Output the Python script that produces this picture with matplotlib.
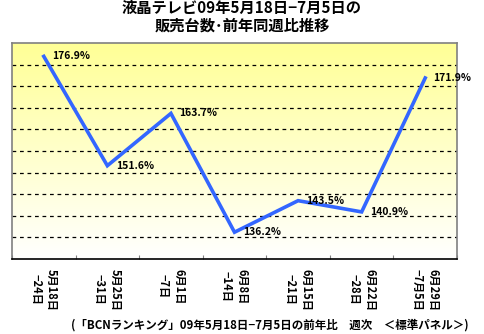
import numpy as np
import matplotlib
matplotlib.use("Agg")
import matplotlib.pyplot as plt
import matplotlib.transforms as mtransforms

plt.rcParams['font.family'] = ['Noto Sans CJK JP', 'DejaVu Sans']

# data
weeks = ['5月18日\n−24日', '5月25日\n−31日', '6月1日\n−7日', '6月8日\n−14日',
         '6月15日\n−21日', '6月22日\n−28日', '6月29日\n−7月5日']
ratio = [176.9, 151.6, 163.7, 136.2, 143.5, 140.9, 171.9]

fig = plt.figure(figsize=(4.84, 3.34), dpi=100)
ax = fig.add_axes([12/484, 1-259/334, 445/484, 216/334])

n = len(ratio)
x = np.arange(n)
ax.set_xlim(-0.5, n - 0.5)
ax.set_ylim(130, 180)

# yellow to white background gradient
grad = np.linspace(0, 1, 256).reshape(-1, 1)
top = np.array([255, 255, 150]) / 255
bot = np.array([255, 255, 255]) / 255
img = top * (1 - grad[..., None]) + bot * grad[..., None]
img = np.repeat(img, 2, axis=1)
ax.imshow(img, extent=[-0.5, n - 0.5, 130, 180], aspect='auto', zorder=0)

for yv in np.arange(135, 180, 5):
    ax.axhline(yv, color='black', lw=0.9, ls=(0, (3, 3)), zorder=1)

ax.plot(x, ratio, color='#3366ff', lw=2.6, zorder=3, solid_joinstyle='miter')
for xi, v in zip(x, ratio):
    ax.annotate(f'{v:.1f}%', (xi, v), xytext=(6, 0), textcoords='offset points',
                ha='left', va='center', fontsize=7.5, fontweight='bold')

ax.set_yticks([])
ax.set_xticks(np.arange(-0.5, n, 1))
ax.set_xticklabels([])
ax.set_xticks(x, minor=True)
ax.set_xticklabels(weeks, minor=True, rotation=-90, fontsize=8, fontweight='bold',
                   va='top', ha='center', linespacing=1.3)
shift = mtransforms.ScaledTranslation(-3/100, 0, fig.dpi_scale_trans)
for lab in ax.get_xticklabels(minor=True):
    lab.set_transform(lab.get_transform() + shift)
ax.tick_params(axis='x', which='major', length=3, direction='in', color='#808080')
ax.tick_params(axis='x', which='minor', length=0, pad=7)
for s in ax.spines.values():
    s.set_color('#808080')
    s.set_linewidth(1.2)
ax.spines['bottom'].set_color('black')

fig.text(0.5, 1 - 17/334, '液晶テレビ09年5月18日−7月5日の\n販売台数･前年同週比推移',
         ha='center', va='center', fontsize=11, fontweight='bold', linespacing=1.1)
fig.text(270/484, 1 - 325/334, '(「BCNランキング」09年5月18日−7月5日の前年比　週次　＜標準パネル＞)',
         ha='center', va='center', fontsize=8.3, fontweight='bold')

fig.savefig('out.png', dpi=100)
